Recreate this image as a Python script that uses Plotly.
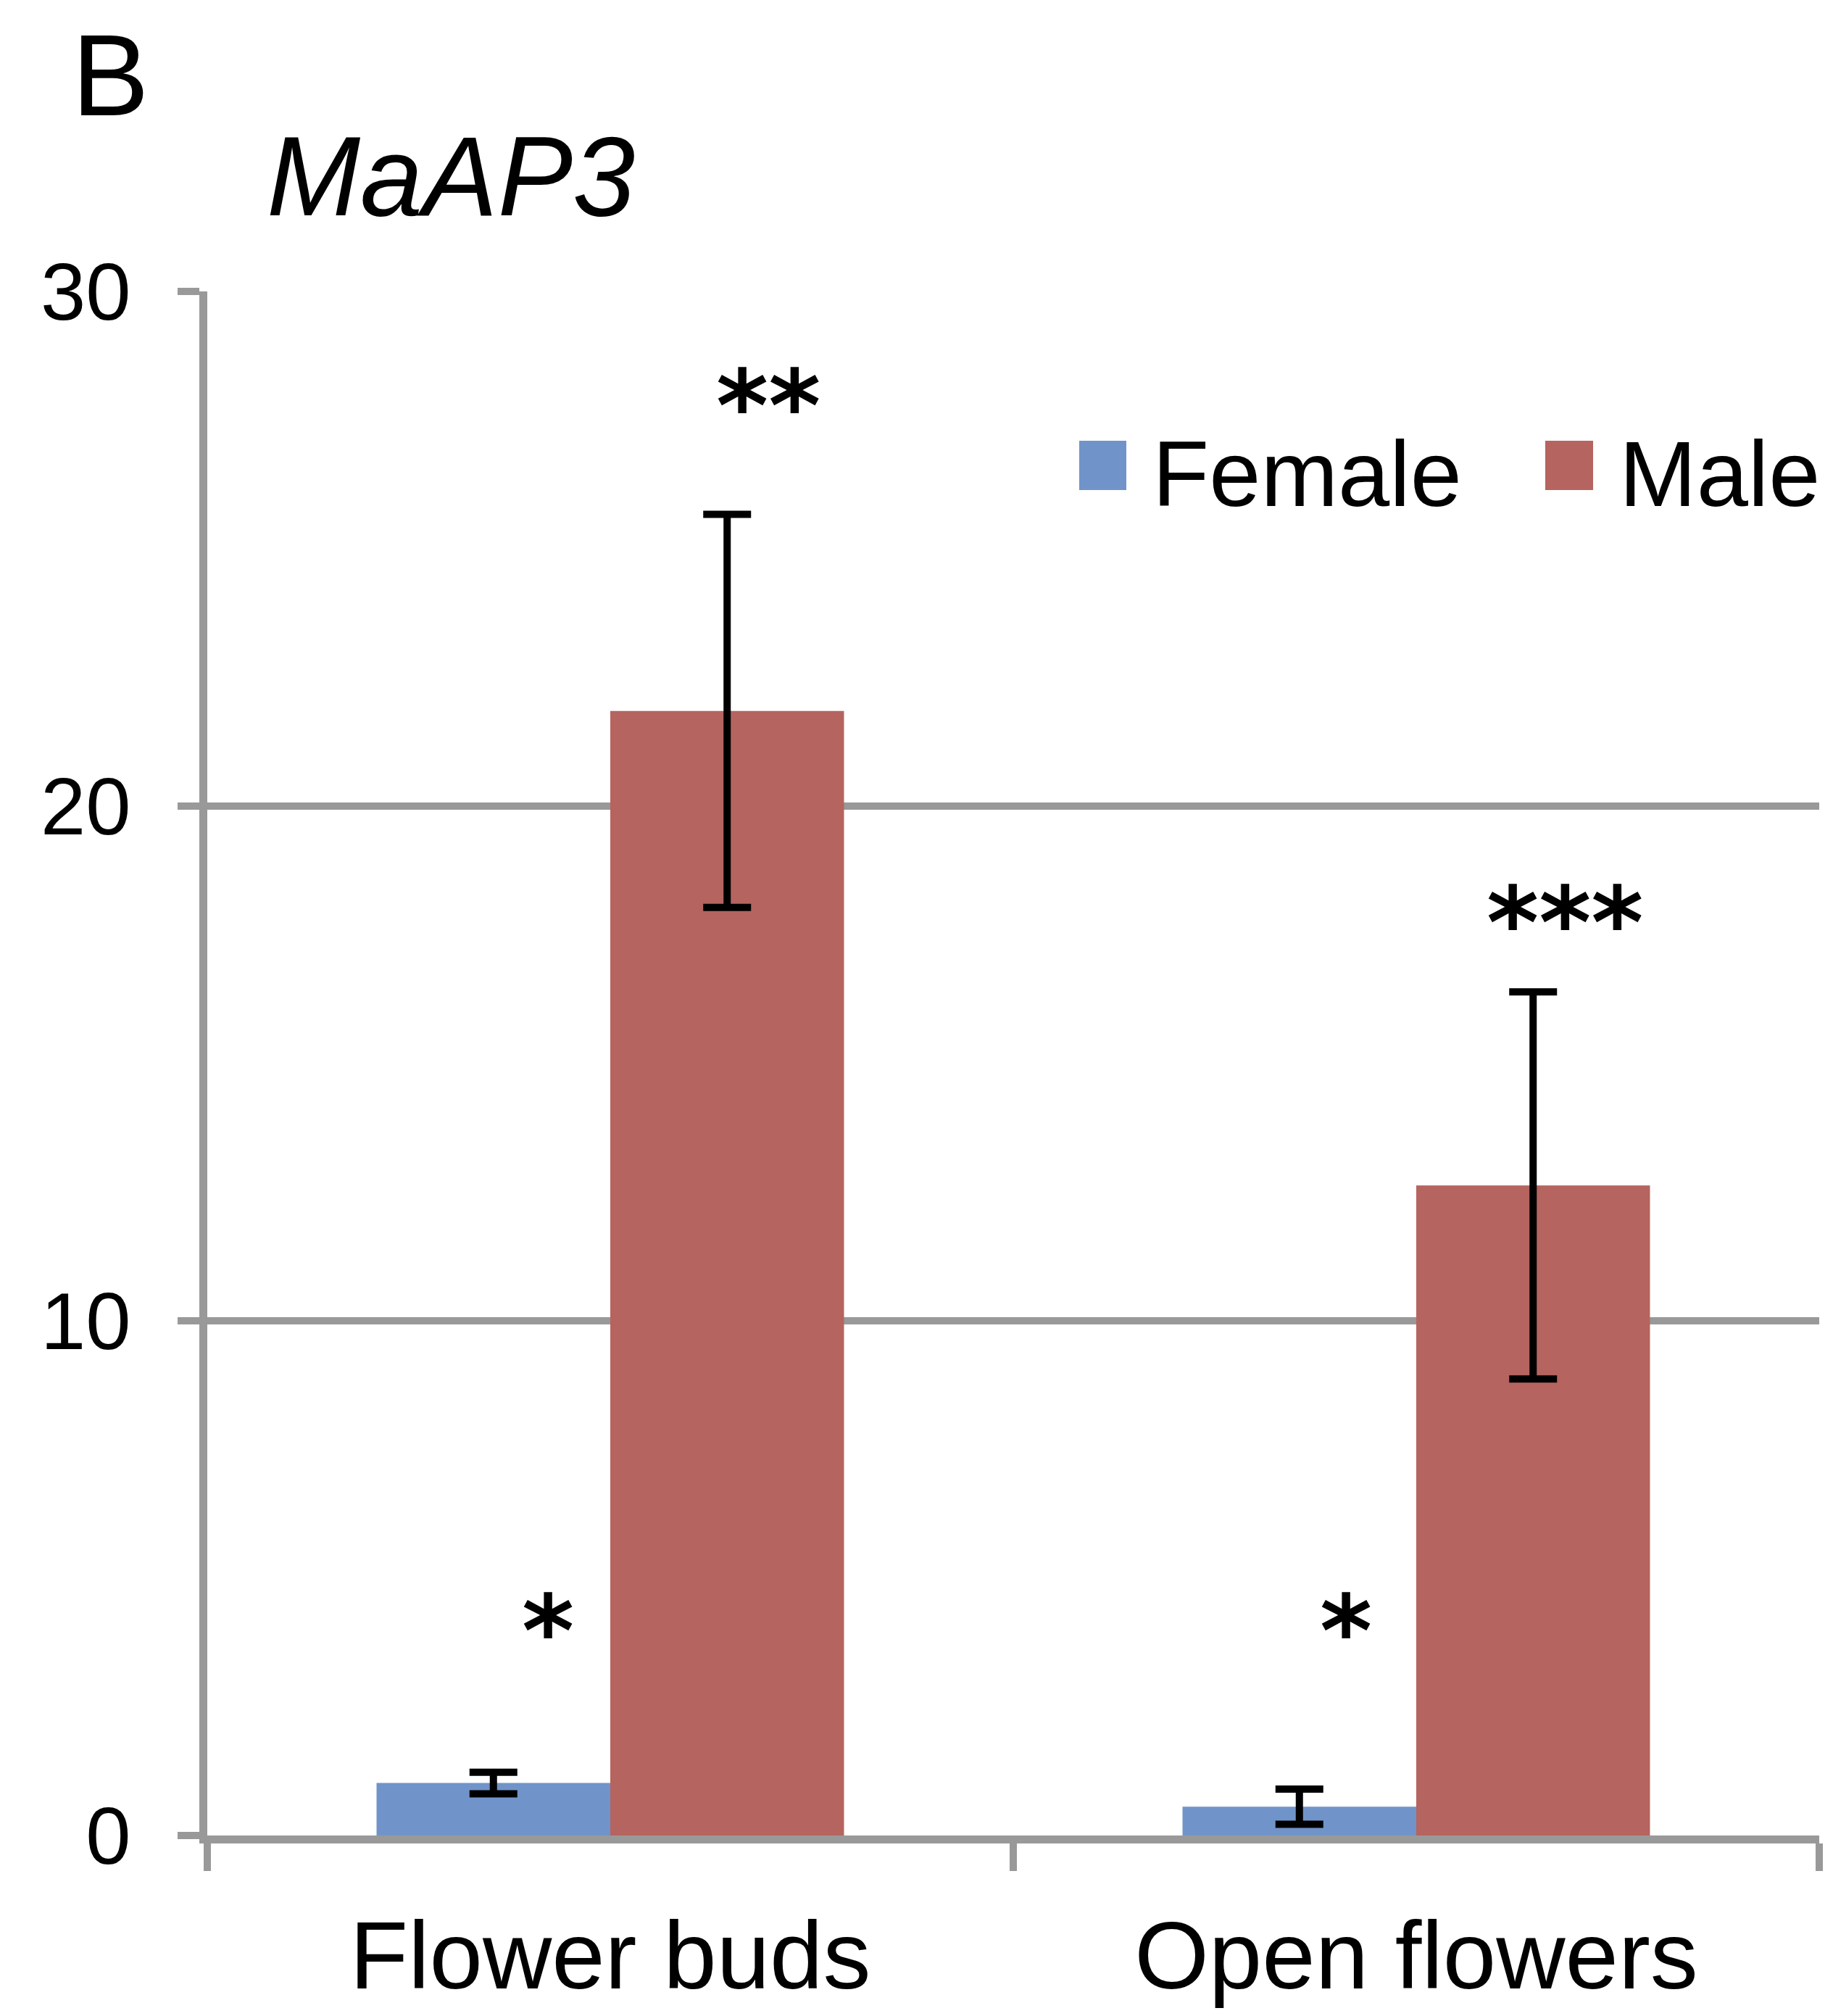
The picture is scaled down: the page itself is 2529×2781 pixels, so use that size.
import plotly.graph_objects as go

# ---- data ----
categories = ["Flower buds", "Open flowers"]
series_names = ["Female", "Male"]
female_values = [1.02, 0.56]
female_errors = [0.21, 0.34]
male_values = [21.85, 12.63]
male_errors = [3.82, 3.76]
female_stars = ["*", "*"]
male_stars = ["**", "***"]
female_star_y = [3.97, 3.97]
male_star_y = [27.77, 17.72]
y_ticks = [0, 10, 20, 30]
y_tick_labels = ["0", "10", "20", "30"]
panel_label = "B"
gene_name = "MaAP3"

# ---- style ----
W, H = 2529, 2781
L, R, T, B = 278, 27, 394, 257
colors = ["#7094C9", "#B5645F"]
grid_col = "#999999"
FONT = "Liberation Sans, Arial, sans-serif"
STAR_FONT = "DejaVu Sans, sans-serif"

pw = W - L - R
ph = H - T - B


def px_x(px):
    return (px - L) / pw


def px_y(py):
    return (H - B - py) / ph


err_style = dict(type="data", thickness=10, width=33, color="black", visible=True)

fig = go.Figure()
for name, vals, errs, col in zip(series_names, [female_values, male_values],
                                 [female_errors, male_errors], colors):
    fig.add_trace(go.Bar(
        x=categories, y=vals, name=name,
        marker=dict(color=col, line=dict(width=0)),
        error_y=dict(array=errs, **err_style),
        showlegend=False,
    ))

annotations = []
# significance stars (x offsets within each category, in category units)
star_offsets = [[-0.077, -0.087], [0.196, 0.185]]
for si, (stars, ys) in enumerate([(female_stars, female_star_y), (male_stars, male_star_y)]):
    for ci, (s, yv) in enumerate(zip(stars, ys)):
        annotations.append(dict(
            x=ci + star_offsets[si][ci], y=yv, xref="x", yref="y", text=s,
            showarrow=False, xanchor="center", yanchor="middle",
            font=dict(family=STAR_FONT, size=138, color="black", weight="bold"),
        ))

# custom legend
leg_sq = [(1481, 1546), (2124, 2190)]
leg_tx = [1580, 2224]
shapes = []
for name, col, (x0, x1), tx in zip(series_names, colors, leg_sq, leg_tx):
    shapes.append(dict(type="rect", xref="paper", yref="paper",
                       x0=px_x(x0), x1=px_x(x1), y0=px_y(668), y1=px_y(600),
                       fillcolor=col, line=dict(width=0)))
    annotations.append(dict(x=px_x(tx), y=px_y(645), xref="paper", yref="paper",
                            text=name, showarrow=False, xanchor="left", yanchor="middle",
                            font=dict(family=FONT, size=128, color="black")))

annotations.append(dict(x=px_x(89), y=px_y(96), xref="paper", yref="paper",
                        text=panel_label, showarrow=False, xanchor="left", yanchor="middle",
                        font=dict(family=FONT, size=160, color="black")))
annotations.append(dict(x=px_x(358), y=px_y(236), xref="paper", yref="paper",
                        text="<i>" + gene_name + "</i>", showarrow=False,
                        xanchor="left", yanchor="middle",
                        font=dict(family=FONT, size=155, color="black")))

fig.update_layout(
    width=W, height=H,
    margin=dict(l=L, r=R, t=T, b=B, pad=0),
    paper_bgcolor="white", plot_bgcolor="white",
    barmode="group", bargap=0.42, bargroupgap=0,
    annotations=annotations, shapes=shapes,
    font=dict(family=FONT, color="black"),
)
fig.update_xaxes(
    type="category", tickson="boundaries", ticks="outside", ticklen=38,
    tickwidth=10, tickcolor=grid_col, showline=True, linecolor=grid_col, linewidth=11,
    showgrid=False, tickfont=dict(family=FONT, size=132, color="black"),
    ticklabelstandoff=42,
)
fig.update_yaxes(
    range=[0, 30], tickvals=y_ticks, ticktext=y_tick_labels, ticks="outside",
    ticklen=30, tickwidth=10, tickcolor=grid_col, showline=True, linecolor=grid_col,
    linewidth=11, showgrid=True, gridcolor=grid_col, gridwidth=10, zeroline=False,
    tickfont=dict(family=FONT, size=112, color="black"), ticklabelstandoff=42,
)

fig.write_html("out.html")
